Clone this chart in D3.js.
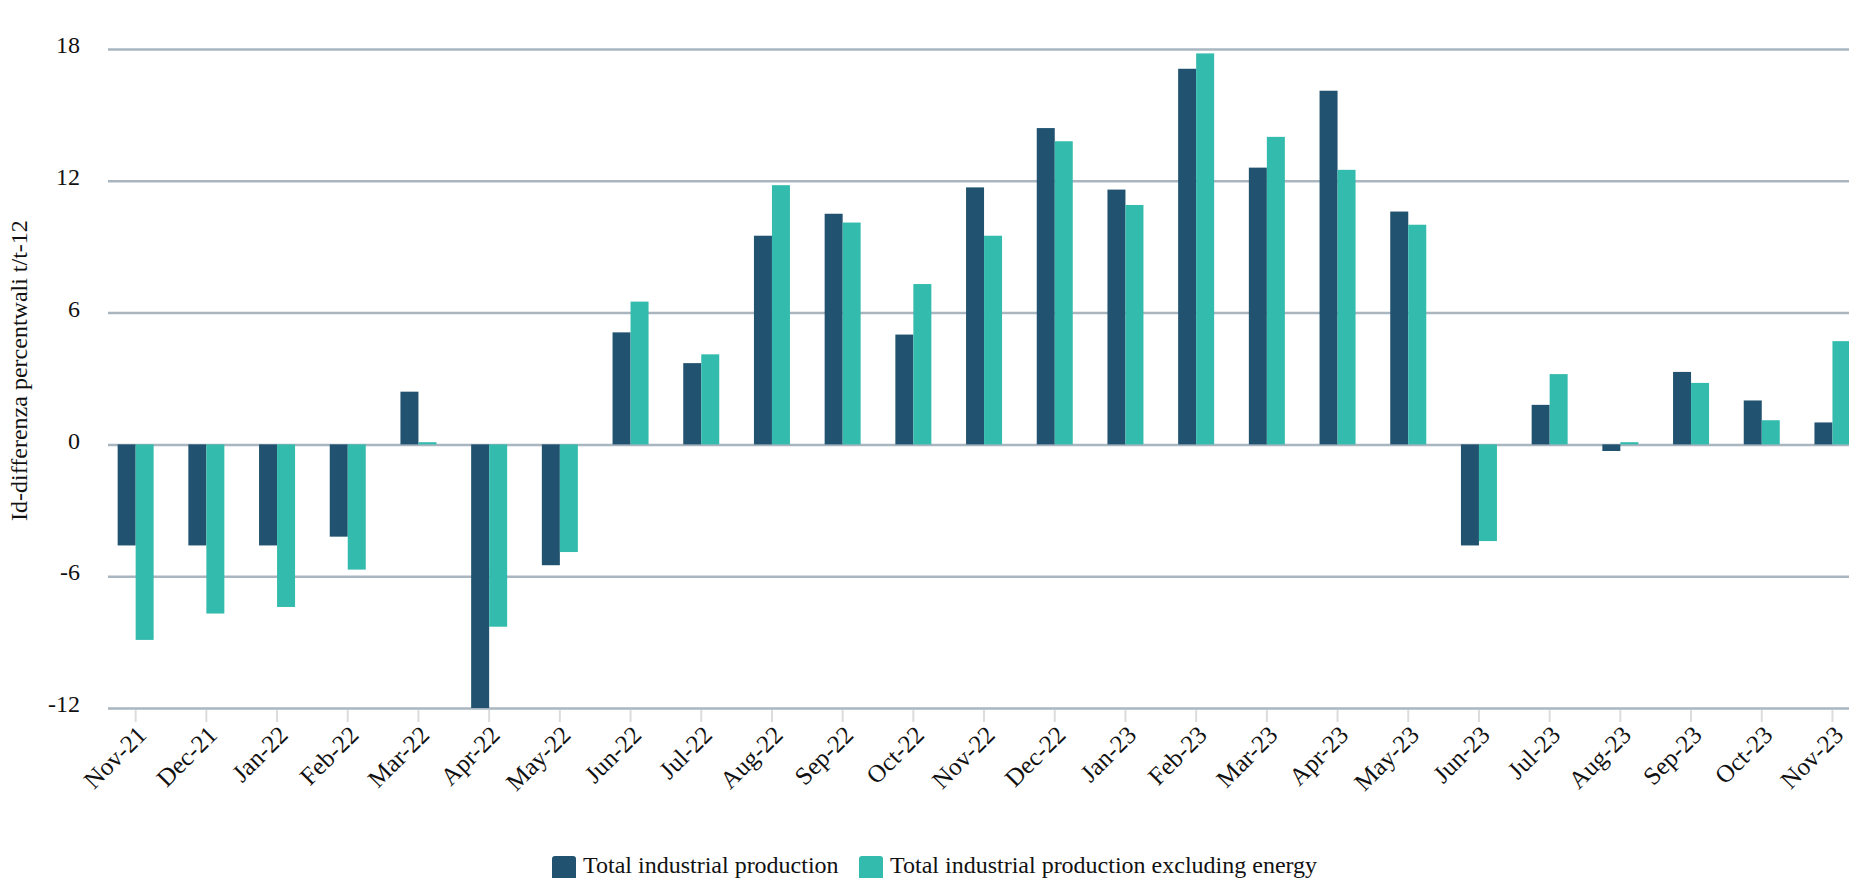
<!DOCTYPE html>
<html lang="it">

<head>
	<title>Industrial production</title>
	<meta charset="utf-8">
	<script src="https://d3js.org/d3.v7.min.js"></script>
	<style>
		html, body { margin: 0; padding: 0; background: #fff; overflow: hidden; }
		svg text { font-family: "Liberation Serif", "Times New Roman", serif; fill: #111; }
	</style>
</head>

<body>
	<div id="chart"></div>
	<script>
		// Data
		const months = ["Nov-21", "Dec-21", "Jan-22", "Feb-22", "Mar-22", "Apr-22", "May-22", "Jun-22", "Jul-22",
			"Aug-22", "Sep-22", "Oct-22", "Nov-22", "Dec-22", "Jan-23", "Feb-23", "Mar-23", "Apr-23", "May-23",
			"Jun-23", "Jul-23", "Aug-23", "Sep-23", "Oct-23", "Nov-23"];
		const totalProduction = [-4.6, -4.6, -4.6, -4.2, 2.4, -12.0, -5.5, 5.1, 3.7, 9.5, 10.5, 5.0, 11.7, 14.4,
			11.6, 17.1, 12.6, 16.1, 10.6, -4.6, 1.8, -0.3, 3.3, 2.0, 1.0];
		const exclEnergy = [-8.9, -7.7, -7.4, -5.7, 0.1, -8.3, -4.9, 6.5, 4.1, 11.8, 10.1, 7.3, 9.5, 13.8,
			10.9, 17.8, 14.0, 12.5, 10.0, -4.4, 3.2, 0.1, 2.8, 1.1, 4.7];
		const seriesNames = ["Total industrial production", "Total industrial production excluding energy"];
		const yTicks = [-12, -6, 0, 6, 12, 18];
		const yTitle = "Id-differenza percentwali t/t-12";

		// Dimensions
		const width = 1849;
		const height = 878;
		const plotLeft = 108;
		const plotTop = 49;
		const plotBottom = 708;
		const colors = ["#21526f", "#33bbad"];

		const svg = d3.select("#chart")
			.append("svg")
			.attr("width", width)
			.attr("height", height);

		// Scales
		const xScale = d3.scaleBand()
			.domain(months)
			.range([100.3, 1867.8])
			.padding(0);

		const groupWidth = 36;
		const xSub = d3.scaleBand()
			.domain(seriesNames)
			.range([0, groupWidth]);

		const yScale = d3.scaleLinear()
			.domain([-12, 18])
			.range([plotBottom, plotTop]);

		// Grid lines
		const yAxis = svg.append("g")
			.attr("transform", `translate(${plotLeft},0)`)
			.call(d3.axisLeft(yScale).tickValues(yTicks).tickSize(-(width - plotLeft)).tickFormat(d => String(d)));
		yAxis.select(".domain").remove();
		yAxis.selectAll(".tick line")
			.attr("stroke", "#a9b6c0")
			.attr("stroke-width", 2.5);
		yAxis.selectAll(".tick text")
			.attr("x", -28)
			.attr("dy", "0.15em")
			.style("font-size", "24px")
			.style("font-family", "'Liberation Serif', serif")
			.attr("fill", "#111");

		// X axis
		const xAxis = svg.append("g")
			.attr("transform", `translate(0,${plotBottom + 2})`)
			.call(d3.axisBottom(xScale).tickSize(12).tickSizeOuter(0));
		xAxis.select(".domain").remove();
		xAxis.selectAll(".tick line")
			.attr("stroke", "#dcdcdc")
			.attr("stroke-width", 2);
		xAxis.selectAll(".tick text")
			.attr("text-anchor", "end")
			.attr("transform", "translate(7,21) rotate(-45)")
			.attr("y", 0)
			.attr("dy", "0.3em")
			.style("font-size", "25px")
			.style("font-family", "'Liberation Serif', serif")
			.attr("fill", "#111");

		// Bars
		const rows = months.map((m, i) => ({ month: m, values: [totalProduction[i], exclEnergy[i]] }));

		const groups = svg.append("g")
			.selectAll("g")
			.data(rows)
			.join("g")
			.attr("transform", d => `translate(${xScale(d.month) + xScale.bandwidth() / 2 - groupWidth / 2},0)`);

		groups.selectAll("rect")
			.data(d => d.values.map((v, j) => ({ name: seriesNames[j], value: v, idx: j })))
			.join("rect")
			.attr("x", d => xSub(d.name))
			.attr("width", xSub.bandwidth())
			.attr("y", d => yScale(Math.max(0, d.value)))
			.attr("height", d => Math.abs(yScale(d.value) - yScale(0)))
			.attr("fill", d => colors[d.idx]);

		// Y title
		svg.append("text")
			.attr("transform", `translate(27,${(plotTop + plotBottom) / 2 - 8}) rotate(-90)`)
			.attr("text-anchor", "middle")
			.style("font-size", "24px")
			.text(yTitle);

		// Legend
		const legendX = [552, 859];
		const legend = svg.append("g")
			.selectAll("g")
			.data(seriesNames)
			.join("g")
			.attr("transform", (d, i) => `translate(${legendX[i]},856)`);

		legend.append("rect")
			.attr("width", 24)
			.attr("height", 24)
			.attr("rx", 3)
			.attr("fill", (d, i) => colors[i]);

		legend.append("text")
			.attr("x", 31)
			.attr("y", 17)
			.style("font-size", "24px")
			.text(d => d);
	</script>
</body>

</html>
